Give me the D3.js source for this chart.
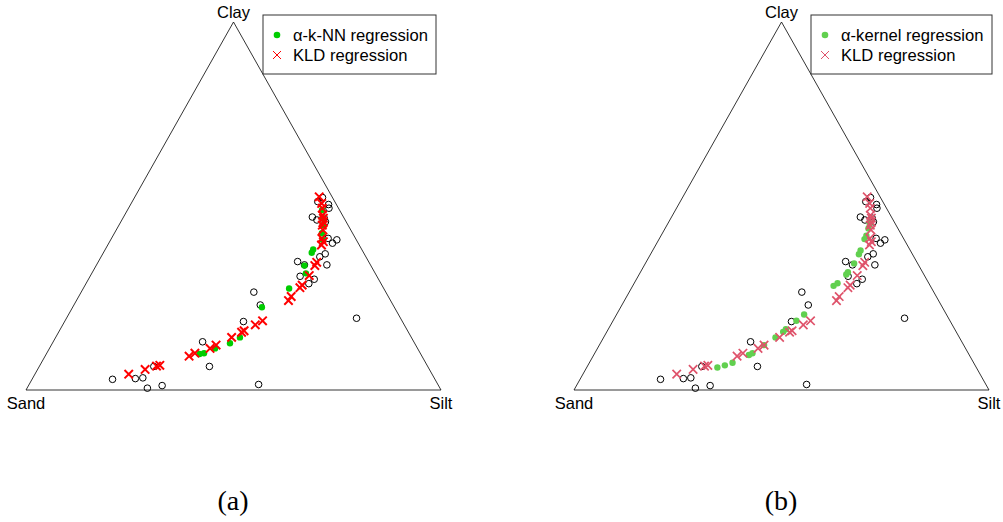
<!DOCTYPE html>
<html>
<head>
<meta charset="utf-8">
<script src="https://cdn.jsdelivr.net/npm/d3@7"></script>
<style>
  body { margin: 0; background: #fff; }
  text { font-family: "Liberation Sans", Arial, sans-serif; }
  text.cap { font-family: "Liberation Serif", "Times New Roman", serif; }
</style>
</head>
<body>
<div id="chart-area"></div>
<script>
// compositions in percent: [clay, silt]  (sand = 100 - clay - silt)
var observed = [
  [2.9,19.4],[3.1,24.8],[3.3,26.5],[0.5,29.0],[1.2,32.2],[6.4,27.6],[13.1,36.0],[6.4,41.0],
  [1.5,55.3],[18.6,43.1],[26.6,41.6],[23.1,44.9],[19.5,69.9],[34.9,48.0],[30.9,50.6],[28.9,53.7],
  [30.1,54.4],[34.0,55.5],[37.0,53.6],[36.2,52.7],[34.0,50.1],[41.2,52.2],[39.9,53.9],[40.8,54.5],
  [47.0,45.5],[46.2,47.0],[45.7,49.3],[51.2,44.7],[52.3,45.3],[50.4,47.7],[49.4,48.3],[46.7,48.5]
];
var knnFit = [
  [9.8,36.9],[10.0,37.9],[11.3,39.9],[12.7,42.8],[14.3,44.4],[22.5,45.6],[27.6,49.6],[31.7,51.6],
  [33.8,50.2],[37.3,50.2],[38.2,50.1],[42.6,50.0],[44.8,49.2],[46.7,48.1],[48.9,46.9],[40.8,51.1]
];
var kernelFit = [
  [6.1,31.5],[6.7,33.0],[7.4,34.5],[9.5,37.4],[10.0,38.0],[12.2,39.7],[14.3,41.4],[15.8,42.5],
  [16.5,42.8],[18.8,44.2],[20.5,45.2],[28.3,48.4],[29.0,49.0],[31.4,49.9],[32.0,50.0],[34.4,50.3],
  [36.9,50.2],[37.9,50.1],[41.0,49.5],[41.9,49.5],[43.9,49.0],[45.3,48.6]
];
var kldFit = [
  [4.3,22.6],[5.6,25.9],[6.5,28.2],[6.7,28.9],[9.2,34.7],[10.0,35.7],[11.3,38.7],[12.2,39.7],
  [14.3,42.4],[15.7,44.1],[16.1,44.5],[17.7,46.4],[18.8,47.6],[24.3,51.1],[25.4,51.2],[27.8,52.1],
  [28.5,52.3],[31.1,52.7],[33.8,52.7],[34.7,52.7],[39.4,51.5],[40.3,51.5],[43.5,49.8],[45.7,48.8],
  [47.5,47.7],[49.4,46.7],[50.7,45.9],[52.5,44.4],[46.7,48.3],[41.2,50.7],[44.8,49.0]
];
var vertexLabels = ["Sand", "Silt", "Clay"];

var panels = [
  {dx: 0, fit: knnFit, dot: "#00cd00", cross: "#ff0000", crossW: 2, label: "\u03b1-k-NN regression", cap: "(a)", lx: 263, lw: 173},
  {dx: 548, fit: kernelFit, dot: "#61d04f", cross: "#df536b", crossW: 1.7, label: "\u03b1-kernel regression", cap: "(b)", lx: 811, lw: 181}
];

var svg = d3.select("#chart-area").append("svg")
    .attr("width", 1003)
    .attr("height", 522);

var x = d3.scaleLinear().domain([0, 1]).range([26, 441]);
var y = d3.scaleLinear().domain([0, 1]).range([390, 22]);
function px(d) { return x((d[1] + d[0] / 2) / 100); }
function py(d) { return y(d[0] / 100); }

function cross(g, cx, cy, s, color, w) {
  g.append("path")
    .attr("d", "M" + (cx - s) + "," + (cy - s) + "L" + (cx + s) + "," + (cy + s) +
               "M" + (cx - s) + "," + (cy + s) + "L" + (cx + s) + "," + (cy - s))
    .attr("stroke", color)
    .attr("stroke-width", w)
    .attr("fill", "none");
}

panels.forEach((p) => {
  var g = svg.append("g").attr("transform", "translate(" + p.dx + ",0)");

  // triangle, corners are pure sand, silt, clay
  var corners = [[0, 0], [0, 100], [100, 0]];
  g.append("path")
    .attr("d", d3.line()(corners.map((c) => [px(c), py(c)])) + "Z")
    .attr("fill", "none")
    .attr("stroke", "#000")
    .attr("stroke-width", 0.8);

  g.append("text").attr("x", px(corners[0])).attr("y", 409)
    .attr("text-anchor", "middle").attr("font-size", 16.5).text(vertexLabels[0]);
  g.append("text").attr("x", px(corners[1])).attr("y", 409)
    .attr("text-anchor", "middle").attr("font-size", 16.5).text(vertexLabels[1]);
  g.append("text").attr("x", px(corners[2])).attr("y", 18)
    .attr("text-anchor", "middle").attr("font-size", 16.5).text(vertexLabels[2]);

  g.selectAll("circle.obs")
    .data(observed)
    .enter()
    .append("circle")
      .attr("class", "obs")
      .attr("cx", (d) => px(d))
      .attr("cy", (d) => py(d))
      .attr("r", 3.3)
      .attr("fill", "none")
      .attr("stroke", "#000")
      .attr("stroke-width", 1);

  g.selectAll("circle.fit")
    .data(p.fit)
    .enter()
    .append("circle")
      .attr("class", "fit")
      .attr("cx", (d) => px(d))
      .attr("cy", (d) => py(d))
      .attr("r", 3.2)
      .attr("fill", p.dot);

  kldFit.forEach((d) => {
    cross(g, px(d), py(d), 4.2, p.cross, p.crossW);
  });

  // legend
  var lx = p.lx - p.dx;
  g.append("rect")
    .attr("x", lx).attr("y", 15)
    .attr("width", p.lw).attr("height", 59)
    .attr("fill", "#fff").attr("stroke", "#333").attr("stroke-width", 1);
  g.append("circle").attr("cx", lx + 14).attr("cy", 35).attr("r", 3.3).attr("fill", p.dot);
  cross(g, lx + 14, 55, 4, p.cross, 1);
  g.append("text").attr("x", lx + 30).attr("y", 40.5).attr("font-size", 16.6).text(p.label);
  g.append("text").attr("x", lx + 30).attr("y", 60.5).attr("font-size", 16.6).text("KLD regression");

  g.append("text")
    .attr("class", "cap")
    .attr("x", 233).attr("y", 510)
    .attr("text-anchor", "middle")
    .attr("font-size", 28)
    .text(p.cap);
});
</script>
</body>
</html>
